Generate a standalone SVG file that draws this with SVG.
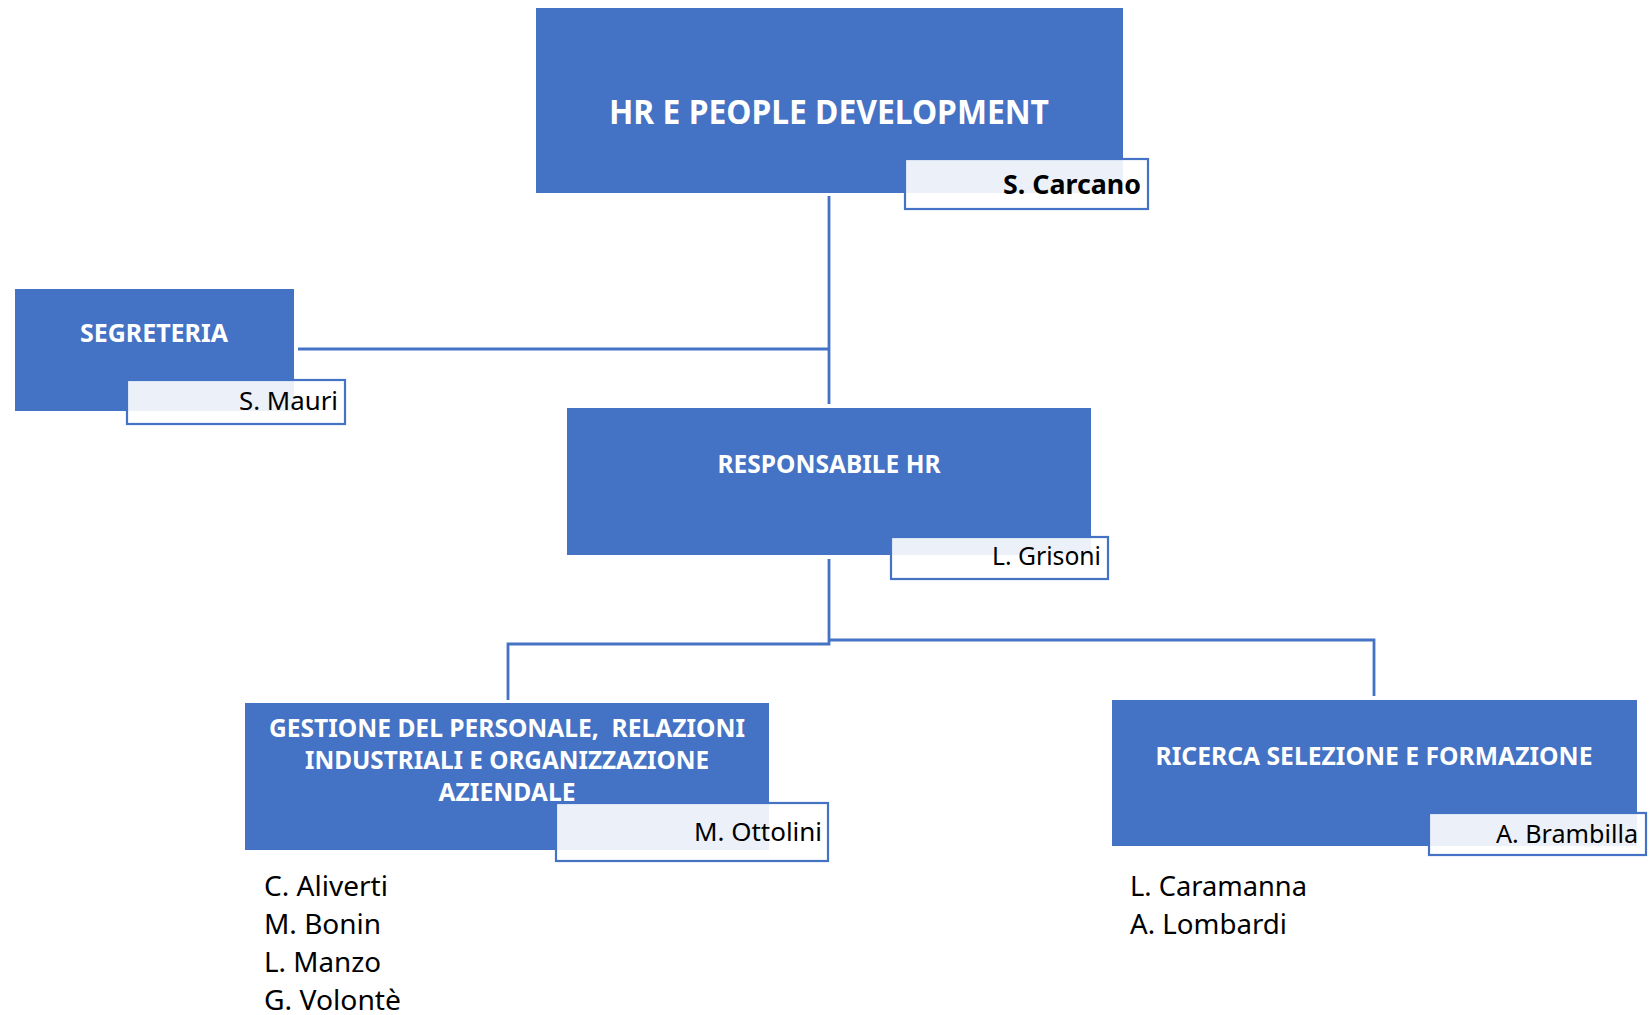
<svg xmlns="http://www.w3.org/2000/svg" width="1650" height="1015" viewBox="0 0 1650 1015">
<style>
.box{fill:#4472C4;}
.lab{fill:#ffffff;fill-opacity:0.9;stroke:#4472C4;stroke-width:2.2;}
.conn{fill:none;stroke:#4472C4;stroke-width:2.8;}
.t{font-family:"Noto Sans","Open Sans","DejaVu Sans",sans-serif;font-weight:bold;fill:#ffffff;text-anchor:middle;}
.n{font-family:"Noto Sans","Open Sans","DejaVu Sans",sans-serif;fill:#000000;text-anchor:end;font-size:26px;}
.p{font-family:"Noto Sans","Open Sans","DejaVu Sans",sans-serif;fill:#000000;font-size:27px;}
</style>
<rect width="1650" height="1015" fill="#ffffff"/>
<g id="connectors">
<path class="conn" d="M829,196 V404"/>
<path class="conn" d="M298,349 H829"/>
<path class="conn" d="M829,559 V644 H508 V700"/>
<path class="conn" d="M829,640 H1374 V696"/>
</g>
<g id="node-hr">
<rect class="box" x="536" y="8" width="587" height="185"/>
<text class="t" x="829" y="124" font-size="34" textLength="440" lengthAdjust="spacingAndGlyphs">HR E PEOPLE DEVELOPMENT</text>
<rect class="lab" x="905" y="159" width="243" height="50"/>
<text class="n" x="1141" y="194" font-weight="bold" font-size="27" textLength="138" lengthAdjust="spacingAndGlyphs">S. Carcano</text>
</g>
<g id="node-segreteria">
<rect class="box" x="15" y="289" width="279" height="122"/>
<text class="t" x="154" y="342" font-size="25" textLength="148" lengthAdjust="spacingAndGlyphs">SEGRETERIA</text>
<rect class="lab" x="127" y="380" width="218" height="44"/>
<text class="n" x="338" y="410" textLength="99" lengthAdjust="spacingAndGlyphs">S. Mauri</text>
</g>
<g id="node-responsabile">
<rect class="box" x="567" y="408" width="524" height="147"/>
<text class="t" x="829" y="473" font-size="25" textLength="223" lengthAdjust="spacingAndGlyphs">RESPONSABILE HR</text>
<rect class="lab" x="891" y="537" width="217" height="42"/>
<text class="n" x="1101" y="565" textLength="109" lengthAdjust="spacingAndGlyphs">L. Grisoni</text>
</g>
<g id="node-gestione">
<rect class="box" x="245" y="703" width="524" height="147"/>
<text class="t" x="507" y="737" font-size="25" textLength="476" lengthAdjust="spacingAndGlyphs">GESTIONE DEL PERSONALE,&#160; RELAZIONI</text>
<text class="t" x="507" y="769" font-size="25" textLength="404" lengthAdjust="spacingAndGlyphs">INDUSTRIALI E ORGANIZZAZIONE</text>
<text class="t" x="507" y="801" font-size="25" textLength="137" lengthAdjust="spacingAndGlyphs">AZIENDALE</text>
<rect class="lab" x="556" y="803" width="272" height="58"/>
<text class="n" x="822" y="841" textLength="128" lengthAdjust="spacingAndGlyphs">M. Ottolini</text>
</g>
<g id="node-ricerca">
<rect class="box" x="1112" y="700" width="525" height="146"/>
<text class="t" x="1374" y="765" font-size="25" textLength="437" lengthAdjust="spacingAndGlyphs">RICERCA SELEZIONE E FORMAZIONE</text>
<rect class="lab" x="1429" y="813" width="217" height="42"/>
<text class="n" x="1638" y="843" textLength="142" lengthAdjust="spacingAndGlyphs">A. Brambilla</text>
</g>
<g id="list-gestione">
<text class="p" x="264" y="896" textLength="124" lengthAdjust="spacingAndGlyphs">C. Aliverti</text>
<text class="p" x="264" y="934" textLength="117" lengthAdjust="spacingAndGlyphs">M. Bonin</text>
<text class="p" x="264" y="972" textLength="117" lengthAdjust="spacingAndGlyphs">L. Manzo</text>
<text class="p" x="264" y="1010" textLength="137" lengthAdjust="spacingAndGlyphs">G. Volontè</text>
</g>
<g id="list-ricerca">
<text class="p" x="1130" y="896" textLength="177" lengthAdjust="spacingAndGlyphs">L. Caramanna</text>
<text class="p" x="1130" y="934" textLength="157" lengthAdjust="spacingAndGlyphs">A. Lombardi</text>
</g>
</svg>
